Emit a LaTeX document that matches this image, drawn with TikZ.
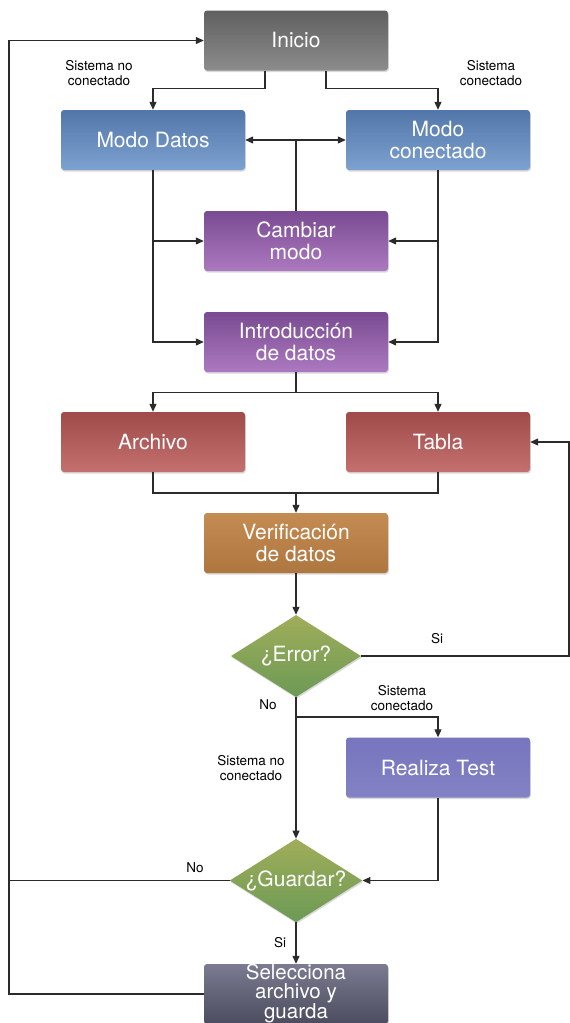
\documentclass[tikz,border=0pt]{standalone}
\usepackage{fontspec}
\setmainfont{TeX Gyre Heros}
\usetikzlibrary{shapes.geometric,arrows.meta,shadows}

\definecolor{trazo}{rgb}{0.17,0.17,0.17}
\definecolor{grisA}{HTML}{606060}
\definecolor{grisB}{HTML}{8C8C8C}
\definecolor{azulA}{HTML}{5276A9}
\definecolor{azulB}{HTML}{7DA2D0}
\definecolor{moradoA}{HTML}{7A4B92}
\definecolor{moradoB}{HTML}{AC79C0}
\definecolor{rojoA}{HTML}{9E4B4A}
\definecolor{rojoB}{HTML}{C4706E}
\definecolor{ocreA}{HTML}{C48B52}
\definecolor{ocreB}{HTML}{AE773F}
\definecolor{verdeA}{HTML}{A0AD5A}
\definecolor{verdeB}{HTML}{6C9A55}
\definecolor{lilaA}{HTML}{7775BE}
\definecolor{lilaB}{HTML}{8282C4}
\definecolor{pizarraA}{HTML}{7B7B91}
\definecolor{pizarraB}{HTML}{4C4C5F}

\tikzset{
  sombra/.style={drop shadow={opacity=0.3, shadow xshift=0.8pt, shadow yshift=-1.5pt}},
  caja/.style={rectangle, rounded corners=3pt, minimum width=184pt, minimum height=60pt,
    inner sep=0pt, align=center, text=white, font=\fontsize{21}{22.5}\selectfont, sombra},
  rombo/.style={diamond, aspect=1.59, minimum width=130pt, minimum height=82pt,
    inner sep=0pt, text=white, font=\fontsize{21}{22.5}\selectfont, sombra,
    top color=verdeA, bottom color=verdeB},
  nota/.style={align=center, font=\fontsize{13.5}{14.5}\selectfont, text=black},
  conector/.style={draw=trazo, line width=1.1pt},
  flecha/.style={conector, -{Triangle[length=8pt,width=7pt]}},
}

\begin{document}
\begin{tikzpicture}[x=1pt, y=-1pt] %flujo
            \useasboundingbox[fill=white] (0,0) rectangle (570,1023);

            \node[caja, top color=grisA, bottom color=grisB] (inicio) at (296,40.5) {Inicio};
            \node[caja, top color=azulA, bottom color=azulB] (mdatos) at (153,140) {Modo Datos};
            \node[caja, top color=azulA, bottom color=azulB] (mconect) at (438,140) {Modo\\conectado};
            \node[caja, top color=moradoA, bottom color=moradoB] (cambiar) at (296,241) {Cambiar\\modo};
            \node[caja, top color=moradoA, bottom color=moradoB] (intro) at (296,342) {Introducción\\de datos};
            \node[caja, top color=rojoA, bottom color=rojoB] (archivo) at (153,442) {Archivo};
            \node[caja, top color=rojoA, bottom color=rojoB] (tabla) at (438,442) {Tabla};
            \node[caja, top color=ocreA, bottom color=ocreB] (verif) at (296,543) {Verificación\\de datos};
            \node[rombo] (error) at (296,656) {¿Error?};
            \node[caja, top color=lilaA, bottom color=lilaB] (test) at (438,767.5) {Realiza Test};
            \node[rombo] (guardar) at (296,880.5) {¿Guardar?};
            \node[caja, top color=pizarraA, bottom color=pizarraB, font=\fontsize{20.5}{18.5}\selectfont] (selec) at (296,994) {Selecciona\\archivo y\\guarda};

            \coordinate (izq) at (9,0);
            \coordinate (borde) at (569,656);
            \coordinate (junta) at (296,493);
            \coordinate (rama) at (296,717);

            \draw[flecha] ([xshift=-31pt]inicio.south) -- ++(0,18) -| (mdatos.north);
            \draw[flecha] ([xshift=30pt]inicio.south) -- ++(0,18) -| (mconect.north);
            \draw[conector, {Triangle[length=8pt,width=7pt]}-{Triangle[length=8pt,width=7pt]}] (mdatos.east) -- (mconect.west);
            \draw[conector] (cambiar.north) -- (cambiar.north |- mdatos.east);
            \draw[flecha] (mdatos.south) |- (intro.west);
            \draw[flecha] (mdatos.south |- cambiar.west) -- (cambiar.west);
            \draw[flecha] (mconect.south) |- (intro.east);
            \draw[flecha] (mconect.south |- cambiar.east) -- (cambiar.east);
            \draw[flecha] (intro.south) -- ++(0,20) -| (archivo.north);
            \draw[flecha] (intro.south) -- ++(0,20) -| (tabla.north);
            \draw[conector] (archivo.south) |- (junta) -| (tabla.south);
            \draw[flecha] (junta) -- (verif.north);
            \draw[flecha] (verif.south) -- (error.north);
            \draw[flecha] (error.east) -- (borde) |- (tabla.east);
            \draw[flecha] (error.south) -- (guardar.north);
            \draw[flecha] (rama) -| (test.north);
            \draw[flecha] (test.south) |- (guardar.east);
            \draw[flecha] (guardar.south) -- (selec.north);
            \draw[conector] (guardar.west) -- (guardar.west -| izq);
            \draw[flecha] (selec.west) -- (selec.west -| izq) |- (inicio.west);

            \node[nota] (n1) at (99,73) {Sistema no\\conectado};
            \node[nota] (n2) at (491,73) {Sistema\\conectado};
            \node[nota] (n3) at (437,639) {Si};
            \node[nota] (n4) at (268,705) {No};
            \node[nota] (n5) at (402,698) {Sistema\\conectado};
            \node[nota] (n6) at (251,768) {Sistema no\\conectado};
            \node[nota] (n7) at (195,868) {No};
            \node[nota] (n8) at (280,943) {Si};
        \end{tikzpicture}
\end{document}
